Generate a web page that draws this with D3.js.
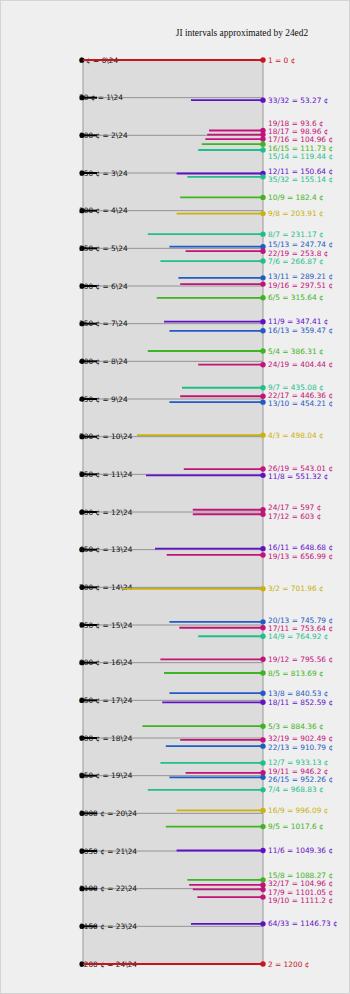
<!DOCTYPE html>
<html>
<head>
<meta charset="utf-8">
<script src="https://cdn.jsdelivr.net/npm/d3@7"></script>
<style>
  body { margin: 0; background: #efefef; }
  svg { display: block; }
  .stepLabel, .jiLabel { font-family: "DejaVu Sans", sans-serif; font-size: 7.4px; }
  .title { font-family: "Liberation Serif", "DejaVu Serif", serif; font-size: 9.4px; }
</style>
</head>
<body>
<div id="chart"></div>
<script>
// JI ratios, their size in cents, and how far each line reaches into the panel (0..100)
var ratios = ["1","33/32","19/18","18/17","17/16","16/15","15/14","12/11","35/32","10/9",
    "9/8","8/7","15/13","22/19","7/6","13/11","19/16","6/5","11/9","16/13",
    "5/4","24/19","9/7","22/17","13/10","4/3","26/19","11/8","24/17","17/12",
    "16/11","19/13","3/2","20/13","17/11","14/9","19/12","8/5","13/8","18/11",
    "5/3","32/19","22/13","12/7","19/11","26/15","7/4","16/9","9/5","11/6",
    "15/8","32/17","17/9","19/10","64/33","2"];

var cents = [0,53.27,93.6,98.96,104.96,111.73,119.44,150.64,155.14,182.4,
    203.91,231.17,247.74,253.8,266.87,289.21,297.51,315.64,347.41,359.47,
    386.31,404.44,435.08,446.36,454.21,498.04,543.01,551.32,597,603,
    648.68,656.99,701.96,745.79,753.64,764.92,795.56,813.69,840.53,852.59,
    884.36,902.49,910.79,933.13,946.2,952.26,968.83,996.09,1017.6,1049.36,
    1088.27,1095.04,1101.05,1111.2,1146.73,1200];

var reach = [100,40,30,31,32,34,36,48,42,46,
    48,64,52,43,57,47,46,59,55,52,
    64,36,45,46,52,70,44,65,39,39,
    60,53.5,78,52,46.5,36,57,55,52,56,
    67,46,54,57,43,52,64,48,54,48,
    42,41,39,36.5,40,100];

// the label text printed in the source differs for this one
var centsTextOverride = {"32/17": "104.96"};

var edoSteps = d3.range(0, 25);
var edo = 24;

var limitColors = {
    2: "#c8141e",
    3: "#c9b20c",
    5: "#3cb521",
    7: "#1fbf8c",
    11: "#6210c8",
    13: "#1f5cc4",
    17: "#c4127a",
    19: "#c4127a"
};

function primeLimit(r)
{
    var parts = r.split("/").map(Number);
    var n = parts[0] * (parts[1] || 1);
    var lim = 2;
    for (var p = 2; n > 1; p++)
        while (n % p == 0) { n /= p; lim = Math.max(lim, p); }
    return lim;
}

function fmtCents(c)
{
    return String(+c.toFixed(2));
}

// push overlapping labels apart, keeping each cluster centered on its ideal spots
function spread(ys, gap)
{
    var groups = ys.map(function(y){ return {ideal: [y], start: y}; });
    var merged = true;
    while (merged) {
        merged = false;
        for (var i = 0; i < groups.length - 1; i++) {
            var a = groups[i], b = groups[i+1];
            if (a.start + a.ideal.length * gap > b.start) {
                var ideal = a.ideal.concat(b.ideal);
                var start = d3.mean(ideal, function(v,k){ return v - k*gap; });
                groups.splice(i, 2, {ideal: ideal, start: start});
                merged = true;
                break;
            }
        }
    }
    var res = [];
    groups.forEach(function(g){
        g.ideal.forEach(function(v,k){ res.push(g.start + k*gap); });
    });
    return res;
}

var W = 350, H = 994;
var svg = d3.select("#chart").append("svg")
    .attr("width", W)
    .attr("height", H);

svg.append("rect")
    .attr("x", 0.5).attr("y", 0.5)
    .attr("width", W - 1).attr("height", H - 1)
    .attr("fill", "#efefef")
    .attr("stroke", "#d4d4d4");

var margin = {top: 60, left: 83, right: 87, bottom: 30};
var x = d3.scaleLinear().domain([100, 0]).range([margin.left, W - margin.right]);
var y = d3.scaleLinear().domain([0, 1200]).range([margin.top, H - margin.bottom]);

svg.append("text")
    .attr("class", "title")
    .attr("x", 242)
    .attr("y", 36)
    .attr("text-anchor", "middle")
    .attr("fill", "#111")
    .text("JI intervals approximated by 24ed2");

svg.append("rect")
    .attr("x", x(100))
    .attr("y", y(0))
    .attr("width", x(0) - x(100))
    .attr("height", y(1200) - y(0))
    .attr("fill", "#dcdcdc")
    .attr("stroke", "#999")
    .attr("stroke-width", 1);

// edo steps
var steps = svg.append("g").selectAll("g")
    .data(edoSteps)
  .enter().append("g")
    .attr("transform", function(d){ return "translate(0," + y(d * 1200 / edo) + ")"; });

steps.append("line")
    .attr("x1", x(100)).attr("x2", x(0))
    .attr("stroke", "#8a8a8a")
    .attr("stroke-width", 0.9);

// JI lines
var data = ratios.map(function(r, i){
    return {ratio: r, cents: cents[i], reach: reach[i], color: limitColors[primeLimit(r)]};
});

var ji = svg.append("g");
ji.selectAll("line")
    .data(data)
  .enter().append("line")
    .attr("x1", function(d){ return x(d.reach); })
    .attr("x2", x(0))
    .attr("y1", function(d){ return y(d.cents); })
    .attr("y2", function(d){ return y(d.cents); })
    .attr("stroke", function(d){ return d.color; })
    .attr("stroke-width", 1.8);

steps.append("line")
    .attr("x1", x(100)).attr("x2", x(100) + 14)
    .attr("stroke", "#000")
    .attr("stroke-width", 2);

steps.append("circle")
    .attr("cx", x(100) - 1)
    .attr("r", 2.6)
    .attr("fill", "#000");

steps.append("text")
    .attr("class", "stepLabel")
    .attr("x", 79)
    .attr("dy", "0.35em")
    .attr("fill", "#111")
    .text(function(d){ return (d * 1200 / edo) + " ¢ = " + d + "\\" + edo; });

ji.selectAll("circle")
    .data(data)
  .enter().append("circle")
    .attr("cx", x(0))
    .attr("cy", function(d){ return y(d.cents); })
    .attr("r", 2.7)
    .attr("fill", function(d){ return d.color; });

var labelY = spread(data.map(function(d){ return y(d.cents); }), 8.3);

ji.selectAll("text")
    .data(data)
  .enter().append("text")
    .attr("class", "jiLabel")
    .attr("x", x(0) + 5)
    .attr("y", function(d, i){ return labelY[i]; })
    .attr("dy", "0.35em")
    .attr("fill", function(d){ return d.color; })
    .text(function(d){
        var c = centsTextOverride[d.ratio] || fmtCents(d.cents);
        return d.ratio + " = " + c + " ¢";
    });
</script>
</body>
</html>
